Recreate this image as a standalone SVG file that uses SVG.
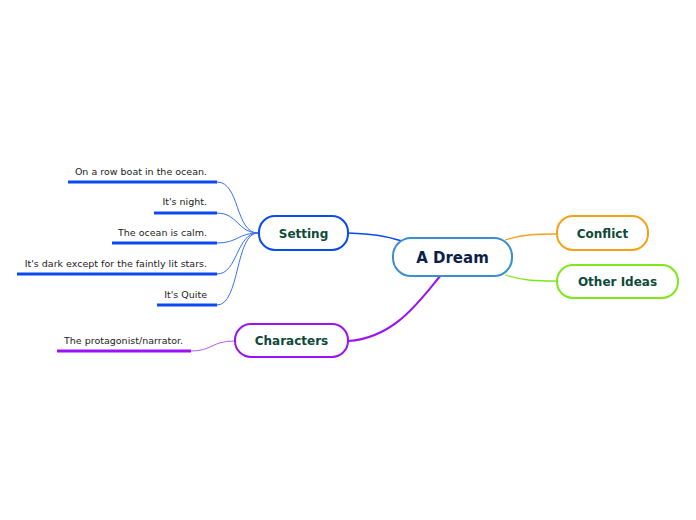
<svg xmlns="http://www.w3.org/2000/svg" width="696" height="520" viewBox="0 0 696 520">
<style>
.node{fill:#fff;stroke-width:2}
.main{font-family:"DejaVu Sans",Verdana,sans-serif;font-weight:bold;font-size:15px;fill:#0b1f4b;text-anchor:middle}
.sub{font-family:"DejaVu Sans",Verdana,sans-serif;font-weight:bold;font-size:12px;fill:#0d4a38;text-anchor:middle}
.leaf{font-family:"DejaVu Sans",Verdana,sans-serif;font-size:9.5px;fill:#222}
.c{fill:none}
</style>
<rect width="696" height="520" fill="#fff"/>
<g id="connectors">
  <path class="c" d="M348,233 C375,234 385,236 402,241" stroke="#0a4af5" stroke-width="1.6"/>
  <path class="c" d="M348,341 C395,338 420,300 441,275" stroke="#9a12f5" stroke-width="2"/>
  <path class="c" d="M505,240 C525,234 535,234 557,234" stroke="#f7a01a" stroke-width="1.3"/>
  <path class="c" d="M505,275 C525,281 535,281 557,281" stroke="#7fe81a" stroke-width="1.3"/>
  <g stroke="#3a6ff5" stroke-width="1" fill="none">
    <path d="M217,182 C240,182 235,233 258,233"/>
    <path d="M217,213 C238,213 238,233 258,233"/>
    <path d="M217,243 C238,243 238,233 258,233"/>
    <path d="M217,274 C238,274 236,233 258,233"/>
    <path d="M217,305 C240,305 235,233 258,233"/>
  </g>
  <path class="c" d="M191,351 C212,351 212,341 234,341" stroke="#b35cf7" stroke-width="1"/>
</g>
<g id="leaf-boat"><line x1="68" y1="182" x2="217" y2="182" stroke="#0a4af5" stroke-width="3"/><text class="leaf" x="207" y="175" text-anchor="end">On a row boat in the ocean.</text></g>
<g id="leaf-night"><line x1="154" y1="213" x2="217" y2="213" stroke="#0a4af5" stroke-width="3"/><text class="leaf" x="207" y="205" text-anchor="end">It's night.</text></g>
<g id="leaf-calm"><line x1="112" y1="243" x2="217" y2="243" stroke="#0a4af5" stroke-width="3"/><text class="leaf" x="207" y="236" text-anchor="end">The ocean is calm.</text></g>
<g id="leaf-dark"><line x1="17" y1="274" x2="217" y2="274" stroke="#0a4af5" stroke-width="3"/><text class="leaf" x="207" y="267" text-anchor="end">It's dark except for the faintly lit stars.</text></g>
<g id="leaf-quite"><line x1="157" y1="305" x2="217" y2="305" stroke="#0a4af5" stroke-width="3"/><text class="leaf" x="207" y="298" text-anchor="end">It's Quite</text></g>
<g id="leaf-protagonist"><line x1="57" y1="351" x2="191" y2="351" stroke="#9a12f5" stroke-width="3"/><text class="leaf" x="64" y="344">The protagonist/narrator.</text></g>
<g id="node-dream"><rect class="node" x="393" y="238" width="119" height="38" rx="18" stroke="#3a8fd0"/><text class="main" x="452.5" y="262.5">A Dream</text></g>
<g id="node-setting"><rect class="node" x="259" y="216" width="89" height="34" rx="16" stroke="#0a4af5"/><text class="sub" x="303.5" y="237.5">Setting</text></g>
<g id="node-characters"><rect class="node" x="235" y="324" width="113" height="33" rx="16" stroke="#9a12f5"/><text class="sub" x="291.5" y="345">Characters</text></g>
<g id="node-conflict"><rect class="node" x="557" y="216" width="91" height="34" rx="16" stroke="#f7a01a"/><text class="sub" x="602.5" y="238">Conflict</text></g>
<g id="node-other"><rect class="node" x="557" y="265" width="121" height="33" rx="16" stroke="#7fe81a"/><text class="sub" x="617.5" y="286">Other Ideas</text></g>
</svg>
